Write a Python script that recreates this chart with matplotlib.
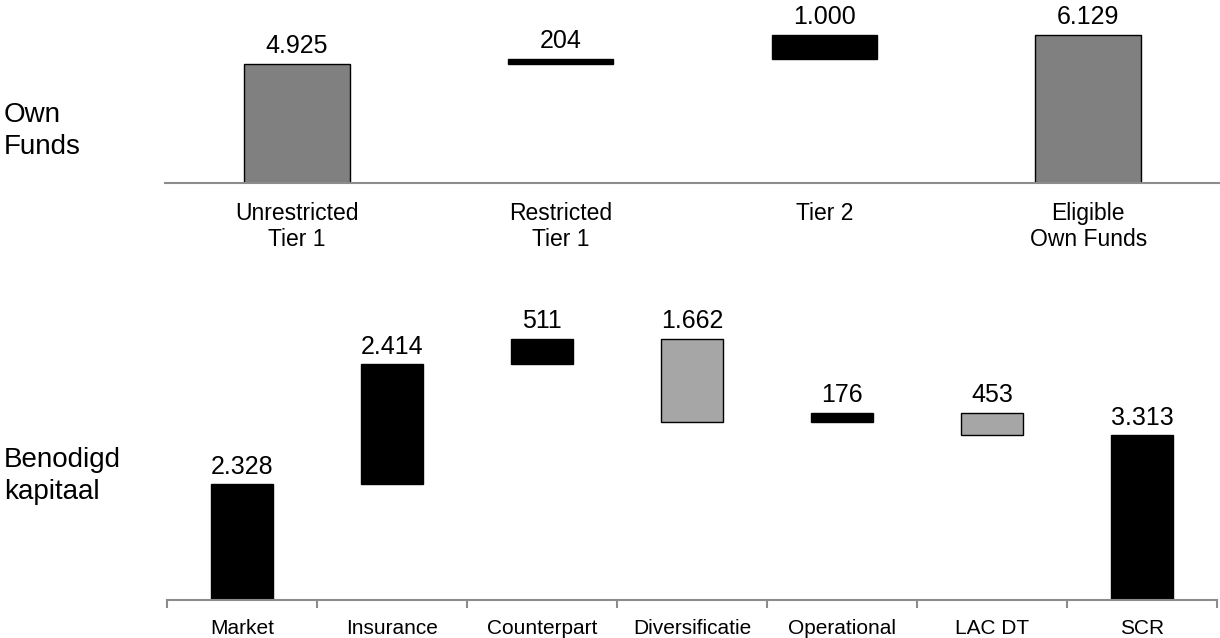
import matplotlib.pyplot as plt

plt.rcParams['font.family'] = ['Liberation Sans', 'DejaVu Sans']

# Own Funds (boven)
of_labels = ['Unrestricted\nTier 1', 'Restricted\nTier 1', 'Tier 2', 'Eligible\nOwn Funds']
of_values = [4925, 204, 1000, 6129]
of_text = ['4.925', '204', '1.000', '6.129']
of_kind = ['total', 'step', 'step', 'total']

# Benodigd kapitaal (onder)
scr_labels = ['Market', 'Insurance', 'Counterpart', 'Diversificatie', 'Operational', 'LAC DT', 'SCR']
scr_values = [2328, 2414, 511, -1662, 176, -453, 3313]
scr_text = ['2.328', '2.414', '511', '1.662', '176', '453', '3.313']
scr_kind = ['step', 'step', 'step', 'step', 'step', 'step', 'total']

W, H = 1220, 638
fig = plt.figure(figsize=(W / 100, H / 100), dpi=100)


def waterfall(ax, values, kind, texts, width, total_color, fs):
    run = 0
    for i, (v, k, t) in enumerate(zip(values, kind, texts)):
        if k == 'total':
            bottom, height = 0, v
            color, edge = total_color, 'black'
            run = v
        else:
            if v >= 0:
                bottom, height = run, v
                color, edge = 'black', 'black'
            else:
                bottom, height = run + v, -v
                color, edge = '#a6a6a6', 'black'
            run += v
        ax.bar(i, height, bottom=bottom, width=width, color=color,
               edgecolor=edge, linewidth=1.0)
        ax.annotate(t, (i, bottom + height), xytext=(0, 4), textcoords='offset points',
                    ha='center', va='bottom', fontsize=fs)


def style(ax):
    for s in ['top', 'right', 'left']:
        ax.spines[s].set_visible(False)
    ax.spines['bottom'].set_color('#8c8c8c')
    ax.spines['bottom'].set_linewidth(1.5)
    ax.set_yticks([])


# bovenste grafiek
ax1 = fig.add_axes([165 / W, 1 - 183 / H, (W - 165) / W, 183 / H])
waterfall(ax1, of_values, of_kind, of_text, 0.4, '#808080', 18)
ax1.set_xlim(-0.5, 3.5)
ax1.set_ylim(0, 183 / 0.0242)
style(ax1)
ax1.set_xticks(range(4))
ax1.set_xticklabels(of_labels, fontsize=16.5, linespacing=1.12)
ax1.tick_params(axis='x', length=0, pad=14)

# onderste grafiek
ax2 = fig.add_axes([167 / W, 1 - 600 / H, 1050 / W, 300 / H])
waterfall(ax2, scr_values, scr_kind, scr_text, 0.41, 'black', 18)
ax2.set_xlim(-0.5, 6.5)
ax2.set_ylim(0, 300 / 0.0497)
style(ax2)
ax2.set_xticks([i - 0.5 for i in range(8)])
ax2.set_xticklabels([])
ax2.set_xticks(range(7), minor=True)
ax2.set_xticklabels(scr_labels, minor=True, fontsize=15)
ax2.tick_params(axis='x', which='major', length=6, color='#8c8c8c', width=1.5)
ax2.tick_params(axis='x', which='minor', length=0, pad=14)

fig.text(4 / W, 1 - 131 / H, 'Own\nFunds', fontsize=20, va='center', ha='left', linespacing=1.3)
fig.text(4 / W, 1 - 476 / H, 'Benodigd\nkapitaal', fontsize=20, va='center', ha='left', linespacing=1.3)

fig.savefig('out.png', dpi=100)
